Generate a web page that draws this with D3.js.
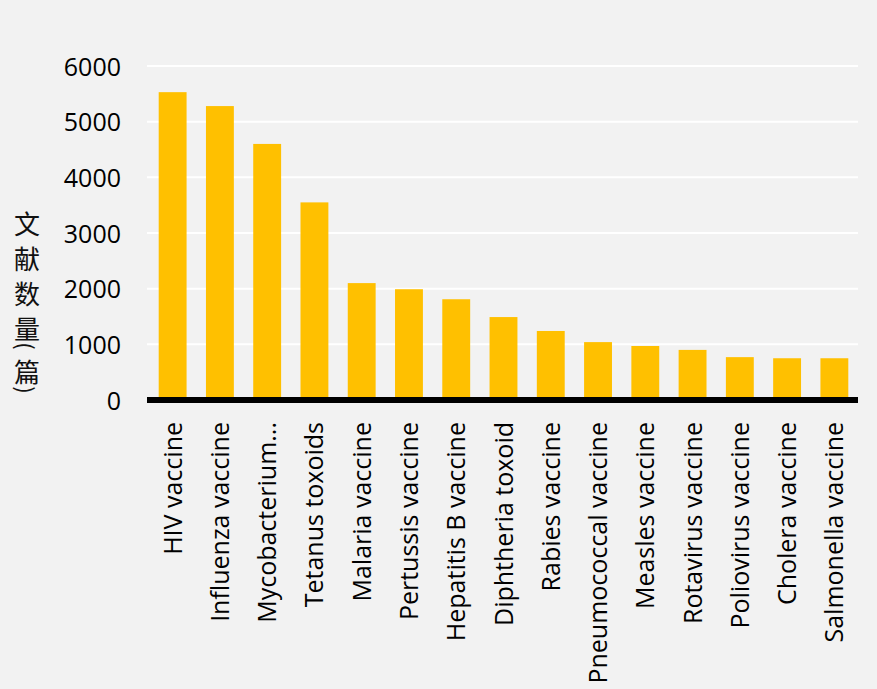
<!DOCTYPE html>
<html><head><meta charset="utf-8">
<script src="https://cdn.jsdelivr.net/npm/d3@7"></script>
<style>html,body{margin:0;padding:0;background:#f2f2f2;}svg{display:block;}</style>
</head><body>
<svg id="chart" width="877" height="689"></svg>
<script>
const categories = ["HIV vaccine","Influenza vaccine","Mycobacterium...","Tetanus toxoids","Malaria vaccine","Pertussis vaccine","Hepatitis B vaccine","Diphtheria toxoid","Rabies vaccine","Pneumococcal vaccine","Measles vaccine","Rotavirus vaccine","Poliovirus vaccine","Cholera vaccine","Salmonella vaccine"];
const counts = [5530,5280,4600,3550,2100,1990,1810,1490,1240,1040,970,900,770,750,750];
const yTicks = [0,1000,2000,3000,4000,5000,6000];
const yTitleChars = ["文","献","数","量","(","篇",")"];

const svg = d3.select("#chart");
svg.append("rect").attr("width",877).attr("height",689).attr("fill","#f2f2f2");

const x = d3.scaleBand().domain(categories).range([149,858]).paddingInner(0.41).paddingOuter(0.205);
const y = d3.scaleLinear().domain([0,6000]).range([400,66]);

// gridlines
svg.append("g").selectAll("line").data(yTicks.filter(d=>d>0)).join("line")
  .attr("x1",147).attr("x2",858).attr("y1",d=>y(d)).attr("y2",d=>y(d))
  .attr("stroke","#ffffff").attr("stroke-width",2);

// y axis labels
const yAxis = d3.axisLeft(y).tickValues(yTicks).tickSize(0).tickPadding(0).tickFormat(d3.format("d"));
const yg = svg.append("g").attr("transform","translate(121,0)").call(yAxis);
yg.select(".domain").remove();
yg.selectAll("text").attr("font-family","'Open Sans'").attr("font-size",25).attr("fill","#000").attr("dy","0.36em");

// bars
svg.append("g").selectAll("rect").data(categories).join("rect")
  .attr("x",d=>x(d)).attr("width",x.bandwidth())
  .attr("y",(d,i)=>y(counts[i])).attr("height",(d,i)=>y(0)-y(counts[i]))
  .attr("fill","#FFC000");

// x axis
const xAxis = d3.axisBottom(x).tickSize(0).tickPadding(0);
const xg = svg.append("g").attr("transform","translate(0,"+y(0)+")").call(xAxis);
xg.select(".domain").attr("stroke","#000").attr("stroke-width",6).attr("d","M147,0H858");
xg.selectAll("text")
  .attr("font-family","'Open Sans'").attr("font-size",25).attr("fill","#000")
  .attr("text-anchor","end").attr("transform","rotate(-90)")
  .attr("x",-22).attr("y",0).attr("dy","0.36em");

// y title (vertical stacked characters)
const titlePos = [222,257,292,327,346,370,390];
const tg = svg.append("g");
yTitleChars.forEach((c,i)=>{
  const isParen = (c==="("||c===")");
  const t = tg.append("text")
    .attr("x",0).attr("y",0)
    .attr("text-anchor","middle").attr("dominant-baseline","central")
    .attr("font-family","'Noto Sans CJK SC'")
    .attr("font-size",isParen?22:26).attr("fill","#111").text(c);
  if(isParen) t.attr("transform","translate(27,"+titlePos[i]+") rotate(90)");
  else t.attr("transform","translate(27,"+titlePos[i]+")");
});
</script>
</body></html>
